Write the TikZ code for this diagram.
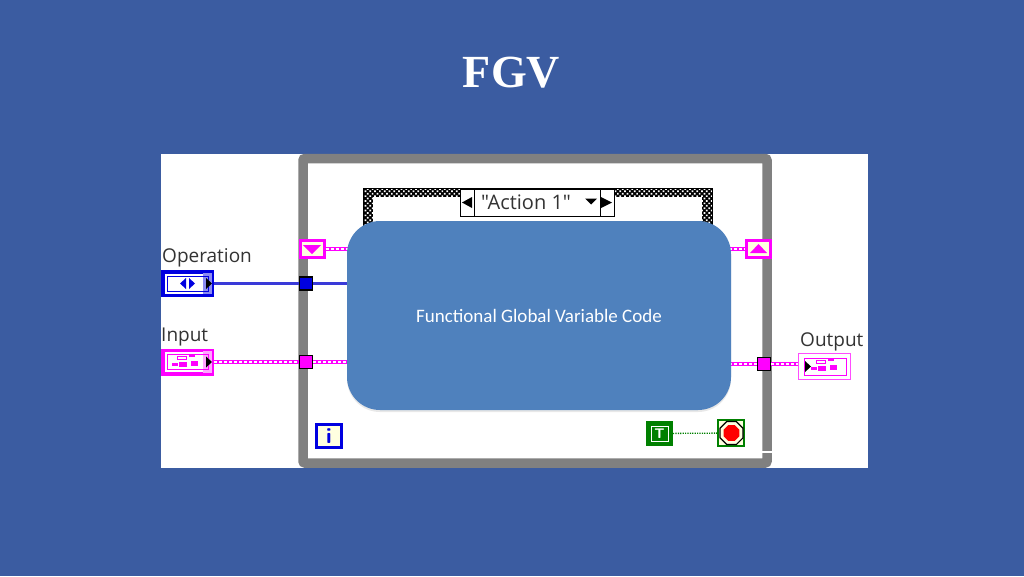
\documentclass[tikz,border=0pt]{standalone}
\usepackage{fontspec}
\setmainfont{Liberation Serif}
\newfontfamily\slidefont{Carlito}
\newfontfamily\vifont{Open Sans}
\usetikzlibrary{positioning, shapes.geometric, patterns.meta, shadows}
\pgfdeclarelayer{top}
\pgfsetlayers{main,top}
\definecolor{slideblue}{HTML}{3B5CA1}
\definecolor{codeblue}{HTML}{4F81BD}
\definecolor{loopgray}{HTML}{808080}
\definecolor{wirepink}{HTML}{FF00FF}
\definecolor{wireblue}{HTML}{0000E0}
\definecolor{enumwire}{HTML}{3A3AD8}
\definecolor{paleyellow}{HTML}{FFFFE0}
\definecolor{vigreen}{HTML}{008000}
\tikzset{
  vilabel/.style={font=\vifont\fontsize{19}{19}\selectfont, text=black!80, inner sep=0pt},
  terminal/.style={rectangle, draw=#1, line width=3.5pt, fill=white,
    minimum width=49.5pt, minimum height=23.5pt, inner sep=0pt},
  tunnel/.style={rectangle, draw=black, line width=1.2pt, fill=#1,
    minimum width=13pt, minimum height=13pt, inner sep=0pt},
  shiftreg/.style={rectangle, draw=wirepink, line width=3pt, fill=paleyellow,
    minimum width=24pt, minimum height=17pt, inner sep=0pt},
  arrowbox/.style={rectangle, draw=black, line width=.8pt, fill=white,
    minimum width=14pt, minimum height=27pt, inner sep=0pt},
  bluewire/.style={draw=enumwire, line width=2.2pt},
  pinkwire/.style={draw=wirepink, line width=4.5pt,
    postaction={draw=white, line width=1.4pt, dash pattern=on 3pt off 2pt}},
}
% little cluster glyph used in the Input and Output terminals
\newcommand{\clusterglyph}[2]{
  \fill[wirepink] (#1-15,#2+5) rectangle ++(6,3);
  \draw[wirepink, line width=1pt] (#1-10,#2-2) rectangle ++(9,3);
  \fill[wirepink] (#1-8,#2+4) rectangle ++(8,5);
  \fill[wirepink] (#1+2,#2-3) rectangle ++(6,2);
  \fill[wirepink] (#1+4,#2+3) rectangle ++(7,5);
}
\begin{document}
\begin{tikzpicture}[x=1pt,y=-1pt]
  \useasboundingbox (0,0) rectangle (1024,576);
  \fill[slideblue] (0,0) rectangle (1024,576);

  \node[font=\bfseries\fontsize{46}{46}\selectfont, text=white] (title) at (511.5,73) {FGV};

  \node[rectangle, fill=white, minimum width=707pt, minimum height=314pt,
  inner sep=0pt] (panel) at (514.5,311) {};

  % while loop
  \node[rectangle, draw=loopgray, line width=9.5pt, rounded corners=2pt,
  minimum width=464pt, minimum height=304.5pt,
  inner sep=0pt] (loop) at (535,310.75) {};
  \fill[white] (759,450.5) rectangle (773,453);

  % case structure
  \node[rectangle, draw=black, line width=.8pt, preaction={fill=black},
  pattern={Dots[distance=3.4pt, radius=1.2pt, angle=45]}, pattern color=white,
  minimum width=349pt, minimum height=60pt,
  inner sep=0pt] (case) at (537.5,218) {};
  \node[rectangle, fill=white, minimum width=329pt, minimum height=60pt,
  inner sep=0pt] (caseinner) at (537.5,227) {};

  \node[rectangle, draw=black, line width=.8pt, fill=white,
  minimum width=126pt, minimum height=27pt, inner sep=0pt] (selector) at (537,202.5) {};
  \node[arrowbox] (prev) at (467,202.5) {};
  \node[arrowbox] (next) at (607,202.5) {};
  \fill (462,202.5) -- (472,197) -- (472,208) -- cycle;
  \fill (612,202.5) -- (601,197) -- (601,208) -- cycle;
  \fill (585,198.5) -- (597,198.5) -- (591,204.5) -- cycle;
  \node[vilabel, anchor=base, font=\vifont\fontsize{20}{20}\selectfont] (action) at (526,209) {"Action 1"};

  % terminals
  \node[terminal=wireblue] (oper) at (187.5,283.5) {};
  \fill[wireblue!45] (203,272.5) rectangle (212,294);
  \node[terminal=wirepink] (input) at (187.5,362) {};
  \fill[wirepink!35] (203,351) rectangle (212,372.5);
  \node[terminal=wirepink!70, line width=1.5pt, minimum width=52pt, minimum height=26pt] (output) at (824.5,366.5) {};
  \draw[wirepink, line width=1pt] (804,358) rectangle (846,375);

  \node[vilabel, anchor=base west] (operlabel) at (162,262) {Operation};
  \node[vilabel, anchor=base west] (inputlabel) at (161,341) {Input};
  \node[vilabel, anchor=base west] (outputlabel) at (800,346) {Output};

  \node[tunnel=wireblue] (opertun) at (306,283.5) {};
  \node[tunnel=wirepink] (inputtun) at (306,362) {};
  \node[tunnel=wirepink] (outputtun) at (764,364) {};

  \node[shiftreg] (srleft) at (312,249) {};
  \node[shiftreg] (srright) at (758.5,249) {};
  \fill[wirepink] (303,245) -- (321,245) -- (312,254) -- cycle;
  \fill[wirepink] (750,253) -- (767,253) -- (758.5,244) -- cycle;

  % blue code block
  \begin{pgfonlayer}{top}
  \node[rectangle, rounded corners=33pt, fill=codeblue,
  drop shadow={opacity=.18, shadow xshift=0pt, shadow yshift=-2pt},
  minimum width=384pt, minimum height=189pt, inner sep=0pt,
  font=\slidefont\fontsize{19}{19}\selectfont, text=white] (code) at (539,315.5) {Functional Global Variable Code};
  \end{pgfonlayer}

  % wires
  \draw[bluewire] (oper) -- (opertun);
  \draw[bluewire] (opertun) -- (opertun -| code);

  \draw[pinkwire] (input) -- (inputtun);
  \draw[pinkwire] (inputtun) -- (inputtun -| code);

  \draw[pinkwire] (outputtun -| code) -- (outputtun);
  \draw[pinkwire] (outputtun) -- (outputtun -| output.west);

  \draw[pinkwire] (srleft) -- (srleft -| code);
  \draw[pinkwire] (srright -| code) -- (srright);

  % glyphs in the terminals
  \draw[wireblue, line width=.7pt] (167,276) rectangle (208,291);
  \fill[wireblue] (180,283.5) -- (186,278) -- (186,289) -- cycle;
  \fill[wireblue] (195,283.5) -- (189,278) -- (189,289) -- cycle;
  \fill (206,278) -- (212,283.5) -- (206,289) -- cycle;
  \draw[wirepink, line width=.7pt] (167,354.5) rectangle (208,369.5);
  \clusterglyph{187}{358}
  \fill (206,356.5) -- (212,362) -- (206,367.5) -- cycle;
  \clusterglyph{826}{362}
  \fill (805,361) -- (811,366.5) -- (805,372) -- cycle;

  % loop terminals
  \node[rectangle, draw=wireblue, line width=3pt, fill=paleyellow,
  minimum width=25pt, minimum height=23pt, inner sep=0pt,
  font=\bfseries\fontsize{22}{22}\selectfont\sffamily, text=wireblue] (iter) at (329,436) {i};

  \node[rectangle, draw=vigreen, line width=3pt, fill=vigreen,
  minimum width=24pt, minimum height=22pt, inner sep=0pt] (trueconst) at (659.5,433.5) {};
  \node[rectangle, draw=white, line width=1pt, fill=vigreen,
  minimum width=17pt, minimum height=15pt, inner sep=0pt,
  font=\bfseries\fontsize{14}{14}\selectfont\sffamily, text=white] (trueinner) at (659.5,433.5) {T};

  \node[rectangle, draw=vigreen, line width=1.5pt, fill=paleyellow,
  minimum width=26pt, minimum height=26pt, inner sep=0pt] (stopterm) at (731,433) {};
  \node[regular polygon, regular polygon sides=8, draw=black, line width=1.2pt, fill=paleyellow,
  minimum size=25pt, inner sep=0pt] (stopring) at (731.5,433) {};
  \node[regular polygon, regular polygon sides=8, fill=red,
  minimum size=17pt, inner sep=0pt] (stopsign) at (731.5,433) {};

  \draw[vigreen, line width=1.3pt, dash pattern=on 1.2pt off 1.2pt] (trueconst) -- (stopterm);
\end{tikzpicture}
\end{document}
